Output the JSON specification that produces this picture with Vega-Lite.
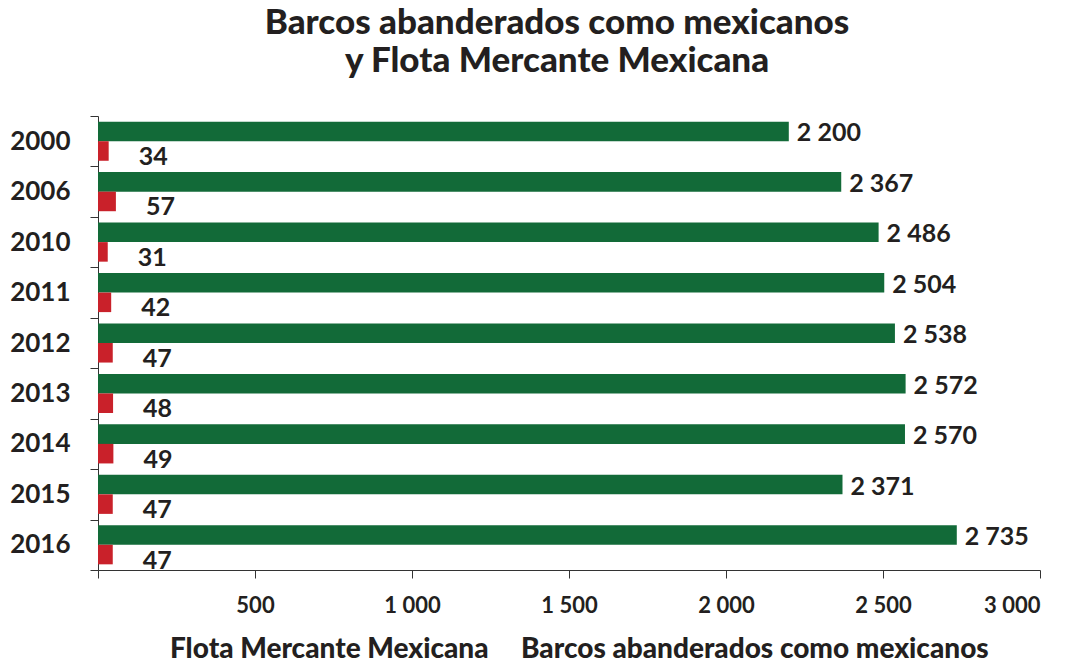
{
  "$schema": "https://vega.github.io/schema/vega-lite/v6.json",
  "width": 942,
  "height": 454,
  "autosize": {"type": "none"},
  "padding": {"left": 98, "top": 116, "right": 33, "bottom": 97},
  "background": "white",
  "title": {
    "text": ["Barcos abanderados como mexicanos", "y Flota Mercante Mexicana"],
    "fontSize": 35,
    "font": "Lato",
    "fontWeight": 900,
    "color": "#231f20",
    "anchor": "middle",
    "dx": -12,
    "offset": 24,
    "lineHeight": 38
  },
  "data": {
    "values": [
      {"anio": "2000", "serie": "Barcos abanderados como mexicanos", "valor": 2200},
      {"anio": "2000", "serie": "Flota Mercante Mexicana", "valor": 34},
      {"anio": "2006", "serie": "Barcos abanderados como mexicanos", "valor": 2367},
      {"anio": "2006", "serie": "Flota Mercante Mexicana", "valor": 57},
      {"anio": "2010", "serie": "Barcos abanderados como mexicanos", "valor": 2486},
      {"anio": "2010", "serie": "Flota Mercante Mexicana", "valor": 31},
      {"anio": "2011", "serie": "Barcos abanderados como mexicanos", "valor": 2504},
      {"anio": "2011", "serie": "Flota Mercante Mexicana", "valor": 42},
      {"anio": "2012", "serie": "Barcos abanderados como mexicanos", "valor": 2538},
      {"anio": "2012", "serie": "Flota Mercante Mexicana", "valor": 47},
      {"anio": "2013", "serie": "Barcos abanderados como mexicanos", "valor": 2572},
      {"anio": "2013", "serie": "Flota Mercante Mexicana", "valor": 48},
      {"anio": "2014", "serie": "Barcos abanderados como mexicanos", "valor": 2570},
      {"anio": "2014", "serie": "Flota Mercante Mexicana", "valor": 49},
      {"anio": "2015", "serie": "Barcos abanderados como mexicanos", "valor": 2371},
      {"anio": "2015", "serie": "Flota Mercante Mexicana", "valor": 47},
      {"anio": "2016", "serie": "Barcos abanderados como mexicanos", "valor": 2735},
      {"anio": "2016", "serie": "Flota Mercante Mexicana", "valor": 47}
    ]
  },
  "encoding": {
    "y": {
      "field": "anio",
      "type": "nominal",
      "scale": {"paddingInner": 0, "paddingOuter": 0},
      "axis": {
        "title": null,
        "tickBand": "extent",
        "tickSize": 8,
        "tickColor": "#333",
        "domainColor": "#333",
        "labelFont": "Lato",
        "labelFontSize": 26,
        "labelFontWeight": "bold",
        "labelColor": "#231f20",
        "labelPadding": 20
      }
    },
    "x": {
      "field": "valor",
      "type": "quantitative",
      "scale": {"domain": [0, 3000], "nice": false},
      "axis": {
        "title": null,
        "grid": false,
        "values": [0, 500, 1000, 1500, 2000, 2500, 3000],
        "format": ",d",
        "labelExpr": "datum.value == 0 ? '' : datum.label",
        "tickSize": 8,
        "tickColor": "#333",
        "domainColor": "#333",
        "labelFont": "Lato",
        "labelFontSize": 22,
        "labelFontWeight": "bold",
        "labelColor": "#231f20",
        "labelPadding": 17
      }
    },
    "yOffset": {
      "field": "serie",
      "type": "nominal",
      "sort": ["Barcos abanderados como mexicanos", "Flota Mercante Mexicana"],
      "scale": {"paddingInner": 0, "paddingOuter": 0.29}
    }
  },
  "layer": [
    {
      "mark": {"type": "bar"},
      "encoding": {
        "color": {
          "field": "serie",
          "type": "nominal",
          "scale": {
            "domain": ["Flota Mercante Mexicana", "Barcos abanderados como mexicanos"],
            "range": ["#c9212a", "#126a38"]
          },
          "legend": {
            "title": null,
            "orient": "none",
            "legendX": 40,
            "legendY": 520,
            "direction": "horizontal",
            "symbolSize": 0,
            "symbolOpacity": 0,
            "symbolStrokeWidth": 0,
            "labelFont": "Lato",
            "labelFontSize": 28,
            "labelFontWeight": 900,
            "labelColor": "#231f20",
            "columnPadding": 0,
            "labelLimit": 700
          }
        }
      }
    },
    {
      "transform": [{"filter": "datum.serie == 'Barcos abanderados como mexicanos'"}],
      "mark": {"type": "text", "align": "left", "baseline": "middle", "dx": 8, "dy": 2, "font": "Lato", "fontSize": 25, "fontWeight": "bold", "color": "#231f20"},
      "encoding": {"text": {"field": "valor", "type": "quantitative", "format": ",d"}}
    },
    {
      "transform": [{"filter": "datum.serie == 'Flota Mercante Mexicana'"}],
      "mark": {"type": "text", "align": "left", "baseline": "middle", "dx": 30, "dy": 6, "font": "Lato", "fontSize": 25, "fontWeight": "bold", "color": "#231f20"},
      "encoding": {"text": {"field": "valor", "type": "quantitative", "format": ",d"}}
    }
  ],
  "config": {
    "view": {"stroke": null},
    "locale": {
      "number": {"decimal": ".", "thousands": " ", "grouping": [3], "currency": ["$", ""]}
    }
  }
}
